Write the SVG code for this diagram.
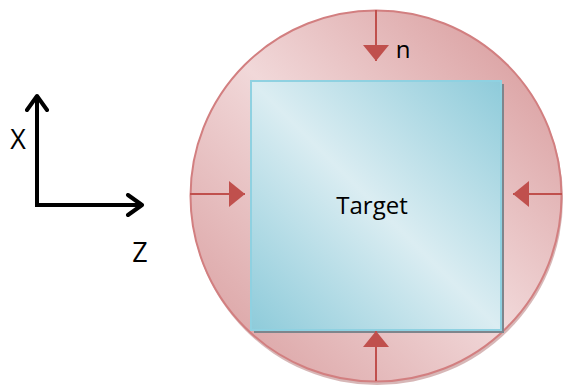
<svg xmlns="http://www.w3.org/2000/svg" width="563" height="389" viewBox="0 0 563 389">
<defs>
<linearGradient id="gc" x1="0" y1="1" x2="1" y2="0">
<stop offset="0" stop-color="#d7999a"/>
<stop offset="0.5" stop-color="#f1d8d9"/>
<stop offset="1" stop-color="#d59394"/>
</linearGradient>
<linearGradient id="gs" x1="0" y1="1" x2="1" y2="0">
<stop offset="0" stop-color="#8ecbda"/>
<stop offset="0.5" stop-color="#dbedf2"/>
<stop offset="1" stop-color="#8ecbda"/>
</linearGradient>
<marker id="rh" viewBox="0 0 16 26" refX="16" refY="13" markerWidth="16" markerHeight="26" markerUnits="userSpaceOnUse" orient="auto">
<path d="M0,0 L16,13 L0,26 Z" fill="#c0504d"/>
</marker>
<marker id="kh" viewBox="0 0 20 24" refX="17" refY="12" markerWidth="20" markerHeight="24" markerUnits="userSpaceOnUse" orient="auto">
<path d="M3,2 L17,12 L3,22" fill="none" stroke="#000" stroke-width="4" stroke-linecap="round" stroke-linejoin="round"/>
</marker>
</defs>
<style>
.red{stroke:#c0504d;stroke-width:2;fill:none;marker-end:url(#rh)}
.ax{stroke:#000;stroke-width:4;fill:none;marker-end:url(#kh)}
.t{font-family:"Open Sans","Liberation Sans",sans-serif;fill:#000}
</style>
<g id="ring">
<circle cx="377" cy="199" r="186" fill="#b07070" opacity="0.5"/>
<circle cx="376" cy="196" r="185.5" fill="url(#gc)" stroke="#d27f80" stroke-width="2"/>
</g>
<g id="target">
<rect x="254" y="84" width="250" height="249" fill="#7f858c"/>
<rect x="251" y="81" width="250" height="249" fill="url(#gs)" stroke="#8fd1e1" stroke-width="2"/>
<text class="t" x="372" y="214" font-size="24" text-anchor="middle">Target</text>
</g>
<g id="axes">
<path class="ax" d="M37,205 L37,96"/>
<path class="ax" d="M35,205 L142,205"/>
<text class="t" x="18" y="149" font-size="27" text-anchor="middle">X</text>
<text class="t" x="140" y="262" font-size="27" text-anchor="middle">Z</text>
</g>
<g id="connectors">
<path class="red" d="M376,10 L376,61"/>
<path class="red" d="M190,194 L245,194"/>
<path class="red" d="M562,194 L513,194"/>
<path class="red" d="M376,381 L376,331"/>
</g>
<text class="t" x="403" y="58" font-size="24" text-anchor="middle">n</text>
</svg>
